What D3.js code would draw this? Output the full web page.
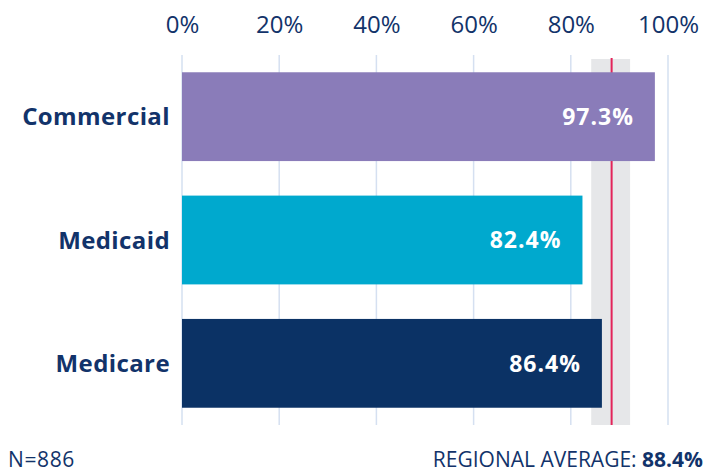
<!DOCTYPE html>
<html>
<head>
<meta charset="utf-8">
<script src="https://cdn.jsdelivr.net/npm/d3@7"></script>
<style>
  body { margin: 0; background: #fff; }
  svg { display: block; font-family: "Open Sans", sans-serif; }
</style>
</head>
<body>
<script>
// chart data
var categories = ["Commercial", "Medicaid", "Medicare"];
var values = [97.3, 82.4, 86.4];
var barColors = ["#8a7cb9", "#00a9ce", "#0b3265"];
var tickValues = [0, 20, 40, 60, 80, 100];
var regionalAverage = 88.4;
var regionalRange = [84.2, 92.2];
var sampleLabel = "N=886";

var width = 705, height = 472;
var navy = "#12336a";

var svg = d3.select("body").append("svg")
    .attr("width", width)
    .attr("height", height);

var x = d3.scaleLinear().domain([0, 100]).range([182, 668]);
var y = d3.scaleBand().domain(categories).range([55, 425])
    .paddingInner(0.28).paddingOuter(0.14);

// grid lines
svg.append("g")
    .selectAll("line")
    .data(tickValues)
    .enter()
    .append("line")
    .attr("x1", function(d) { return x(d); })
    .attr("x2", function(d) { return x(d); })
    .attr("y1", 55)
    .attr("y2", 425)
    .attr("stroke", "#d5e0f1")
    .attr("stroke-width", 1.5);

// regional range band + average line
svg.append("rect")
    .attr("x", x(regionalRange[0]))
    .attr("width", x(regionalRange[1]) - x(regionalRange[0]))
    .attr("y", 59)
    .attr("height", 425 - 59)
    .attr("fill", "#e6e7e9");

svg.append("line")
    .attr("x1", x(regionalAverage))
    .attr("x2", x(regionalAverage))
    .attr("y1", 58)
    .attr("y2", 425)
    .attr("stroke", "#e3245a")
    .attr("stroke-width", 2);

// top axis
var axis = d3.axisTop(x)
    .tickValues(tickValues)
    .tickFormat(function(d) { return d + "%"; })
    .tickSize(0)
    .tickPadding(0);

var ax = svg.append("g")
    .attr("transform", "translate(0,33)")
    .call(axis);
ax.select(".domain").remove();
ax.selectAll("text")
    .attr("font-family", "'Open Sans', sans-serif")
    .attr("font-size", 24)
    .attr("fill", navy);

// bars
svg.append("g")
    .selectAll("rect")
    .data(categories)
    .enter()
    .append("rect")
    .attr("x", x(0))
    .attr("y", function(d) { return y(d); })
    .attr("width", function(d, i) { return x(values[i]) - x(0); })
    .attr("height", y.bandwidth())
    .attr("fill", function(d, i) { return barColors[i]; });

// value labels
svg.append("g")
    .selectAll("text")
    .data(categories)
    .enter()
    .append("text")
    .attr("x", function(d, i) { return x(values[i]) - 21; })
    .attr("y", function(d) { return y(d) + y.bandwidth() / 2; })
    .attr("dy", "0.36em")
    .attr("text-anchor", "end")
    .attr("fill", "#fff")
    .attr("font-weight", "bold")
    .attr("font-size", 23)
    .attr("letter-spacing", 1)
    .text(function(d, i) { return values[i].toFixed(1) + "%"; });

// category labels
svg.append("g")
    .selectAll("text")
    .data(categories)
    .enter()
    .append("text")
    .attr("x", 170)
    .attr("y", function(d) { return y(d) + y.bandwidth() / 2; })
    .attr("dy", "0.36em")
    .attr("text-anchor", "end")
    .attr("fill", navy)
    .attr("font-weight", "bold")
    .attr("font-size", 24)
    .attr("letter-spacing", 0.4)
    .text(function(d) { return d; });

// footer
svg.append("text")
    .attr("x", 8)
    .attr("y", 467)
    .attr("fill", navy)
    .attr("font-size", 21)
    .attr("letter-spacing", 0.6)
    .text(sampleLabel);

var avg = svg.append("text")
    .attr("x", 703)
    .attr("y", 467)
    .attr("text-anchor", "end")
    .attr("fill", navy)
    .attr("font-size", 21);
avg.append("tspan").text("REGIONAL AVERAGE: ");
avg.append("tspan").attr("font-weight", "bold").text(regionalAverage + "%");
</script>
</body>
</html>
